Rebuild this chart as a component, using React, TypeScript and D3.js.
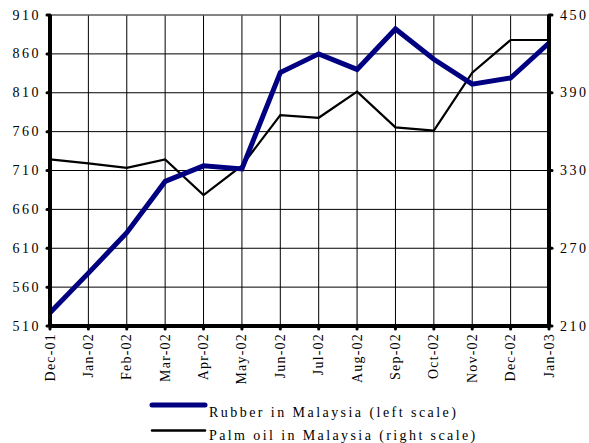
import React from "react";
import * as d3 from "d3";

const months = ["Dec-01","Jan-02","Feb-02","Mar-02","Apr-02","May-02","Jun-02","Jul-02","Aug-02","Sep-02","Oct-02","Nov-02","Dec-02","Jan-03"];
const rubber = [527,578,630,696,716,712,836,860,840,892,853,821,829,874];
const palmOil = [338.6,335.5,332,338.6,311,333.7,372.8,370.7,390.8,363.3,360.7,405.5,430.7,430.7];
const leftTicks = [510,560,610,660,710,760,810,860,910];
const rightTicks = [210,270,330,390,450];
const legendLabels = ["Rubber in Malaysia (left scale)", "Palm oil in Malaysia (right scale)"];

export default function App() {
  const W = 589, H = 443;
  const L = 50, R = 549, T = 15, B = 326;
  const x = d3.scalePoint<string>().domain(months).range([L, R]);
  const yL = d3.scaleLinear().domain([510, 910]).range([B, T]);
  const yR = d3.scaleLinear().domain([210, 450]).range([B, T]);
  const lineL = d3.line<number>().x((_, i) => x(months[i])!).y(d => yL(d));
  const lineR = d3.line<number>().x((_, i) => x(months[i])!).y(d => yR(d));
  const font = "'Liberation Serif', 'Times New Roman', serif";
  return (
    <svg width={W} height={H} style={{ position: "absolute", left: 0, top: 0, background: "#fff" }} fontFamily={font}>
      {/* grid */}
      {months.map(m => (
        <line key={"v" + m} x1={x(m)} x2={x(m)} y1={T} y2={B} stroke="#000" strokeWidth={1} />
      ))}
      {leftTicks.map(t => (
        <line key={"h" + t} x1={L} x2={R} y1={yL(t)} y2={yL(t)} stroke="#000" strokeWidth={1} />
      ))}
      <line x1={L} x2={R} y1={T} y2={T} stroke="#888" strokeWidth={1} />
      {/* series */}
      <path d={lineR(palmOil)!} fill="none" stroke="#000" strokeWidth={2.2} />
      <path d={lineL(rubber)!} fill="none" stroke="#000080" strokeWidth={5} strokeLinejoin="miter" />
      {/* axes */}
      <line x1={L} x2={L} y1={T} y2={B} stroke="#000" strokeWidth={4} />
      <line x1={R} x2={R} y1={T} y2={B} stroke="#000" strokeWidth={4} />
      <line x1={L} x2={R} y1={B} y2={B} stroke="#000" strokeWidth={4} />
      {leftTicks.map(t => (
        <g key={"lt" + t}>
          <line x1={L - 3} x2={L} y1={yL(t)} y2={yL(t)} stroke="#000" strokeWidth={3} strokeLinecap="round" />
          <text x={L - 9} y={yL(t) + 4.5} textAnchor="end" fontSize={14} letterSpacing={2.5}>{t}</text>
        </g>
      ))}
      {rightTicks.map(t => (
        <g key={"rt" + t}>
          <line x1={R} x2={R + 3} y1={yR(t)} y2={yR(t)} stroke="#000" strokeWidth={3} strokeLinecap="round" />
          <text x={R + 11} y={yR(t) + 4.5} textAnchor="start" fontSize={14} letterSpacing={2.5}>{t}</text>
        </g>
      ))}
      {months.map(m => (
        <g key={"xt" + m}>
          <line x1={x(m)} x2={x(m)} y1={B} y2={B + 3} stroke="#000" strokeWidth={3} strokeLinecap="round" />
          <text transform={`translate(${x(m)! + 4.5},${B + 7}) rotate(-90)`} textAnchor="end" fontSize={14} letterSpacing={1.2}>{m}</text>
        </g>
      ))}
      {/* legend */}
      <line x1={152} x2={205} y1={405} y2={405} stroke="#000080" strokeWidth={5} strokeLinecap="round" />
      <text x={209} y={416.5} fontSize={14} letterSpacing={2.45}>{legendLabels[0]}</text>
      <line x1={152} x2={205} y1={430.5} y2={430.5} stroke="#000" strokeWidth={2.5} strokeLinecap="round" />
      <text x={209} y={440} fontSize={14} letterSpacing={2.4}>{legendLabels[1]}</text>
    </svg>
  );
}
